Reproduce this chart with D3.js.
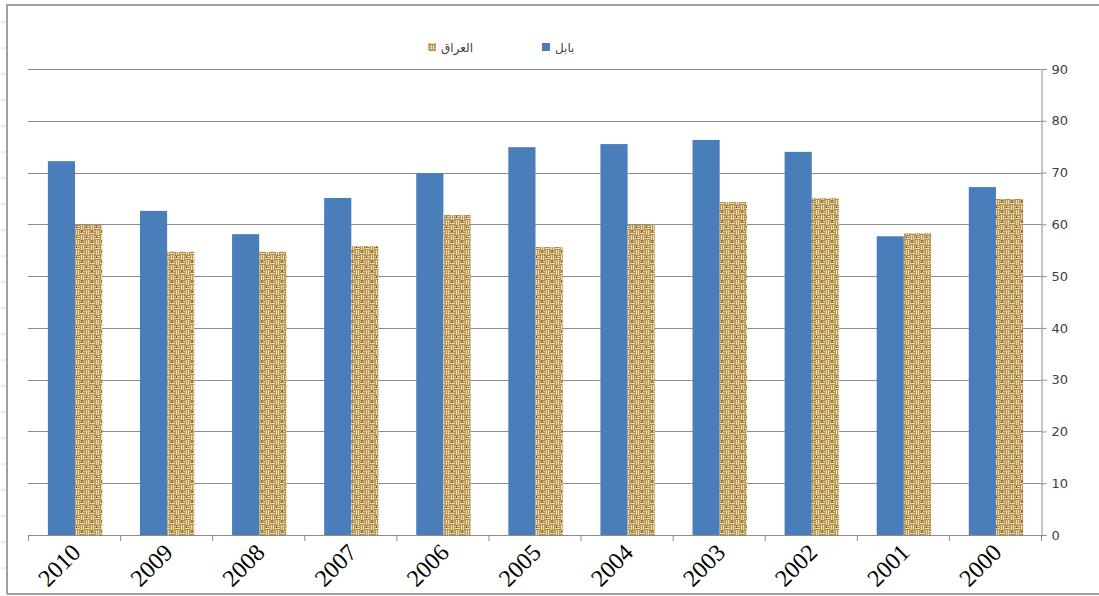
<!DOCTYPE html>
<html><head><meta charset="utf-8">
<script src="https://cdn.jsdelivr.net/npm/d3@7"></script>
<style>body{margin:0;background:#fff}svg{display:block}</style>
</head><body><svg id="c" width="1099" height="596"></svg>
<script>
const categories = ["2010","2009","2008","2007","2006","2005","2004","2003","2002","2001","2000"];
const babel = [72.2,62.6,58.1,65.1,69.9,74.9,75.5,76.3,74.0,57.7,67.2];
const iraq  = [59.9,54.7,54.7,55.8,61.8,55.6,59.9,64.3,65.1,58.3,64.9];
const seriesNames = ["بابل","العراق"];
const yTicks = [0,10,20,30,40,50,60,70,80,90];

(function(){
const svg = d3.select("#c");
const W = 1099, H = 596;
const pL = 28, pR = 1041, pT = 69, pB = 535;

// woven texture
const defs = svg.append("defs");
const pat = defs.append("pattern").attr("id","weave").attr("patternUnits","userSpaceOnUse")
  .attr("width",10).attr("height",10);
pat.append("rect").attr("width",10).attr("height",10).attr("fill","#eedda6");
pat.append("path").attr("d","M0,0.5H5M0,2.5H5M0,4.5H5M5,5.5H10M5,7.5H10M5,9.5H10").attr("stroke","#ad8a52").attr("stroke-width",1);
pat.append("path").attr("d","M5.5,0V5M7.5,0V5M9.5,0V5M0.5,5V10M2.5,5V10M4.5,5V10").attr("stroke","#b8965c").attr("stroke-width",1);
pat.append("rect").attr("x",1).attr("y",1).attr("width",2).attr("height",1).attr("fill","#7a5a2e");
pat.append("rect").attr("x",6).attr("y",6).attr("width",1).attr("height",2).attr("fill","#7a5a2e");

// frame
svg.append("path").attr("d",`M7,${H-2}V5H${W}`).attr("fill","none").attr("stroke","#a0a0a0").attr("stroke-width",2);
svg.append("line").attr("x1",7).attr("x2",W).attr("y1",H-2).attr("y2",H-2).attr("stroke","#a0a0a0").attr("stroke-width",2);
svg.append("g").selectAll("line").data(d3.range(22)).join("line")
  .attr("x1",1).attr("x2",5).attr("y1",d=>22+d*26).attr("y2",d=>22+d*26)
  .attr("stroke","#d0d0d0").attr("stroke-width",1);

const x = d3.scaleBand().domain(categories).range([pL,pR]).paddingInner(0.41).paddingOuter(0.205);
const x1 = d3.scaleBand().domain([0,1]).range([0,x.bandwidth()]);
const y = d3.scaleLinear().domain([0,90]).range([pB,pT]);

// gridlines
svg.append("g").selectAll("line").data(yTicks.slice(1)).join("line")
  .attr("x1",pL).attr("x2",pR).attr("y1",d=>Math.round(y(d))+0.5).attr("y2",d=>Math.round(y(d))+0.5)
  .attr("stroke","#8c8c8c").attr("stroke-width",1);

// bars
const g = svg.append("g");
categories.forEach((c,i)=>{
  g.append("rect").attr("x",x(c)+x1(0)+1).attr("width",x1.bandwidth()).attr("y",y(babel[i])).attr("height",y(0)-y(babel[i])).attr("fill","#4a7ebb");
  g.append("rect").attr("x",x(c)+x1(1)+1).attr("width",x1.bandwidth()).attr("y",y(iraq[i])).attr("height",y(0)-y(iraq[i])).attr("fill","url(#weave)");
});

// right axis
const ya = svg.append("g").attr("transform",`translate(${pR+0.5},0)`)
  .call(d3.axisRight(y).tickValues(yTicks).tickSize(5).tickPadding(5));
ya.select(".domain").attr("stroke","#8c8c8c");
ya.selectAll(".tick line").attr("stroke","#8c8c8c");
ya.selectAll(".tick text").style("font-family","\"DejaVu Sans\"").style("font-size","13px").attr("fill","#404040");

// x axis
svg.append("line").attr("x1",pL).attr("x2",pR).attr("y1",pB+0.5).attr("y2",pB+0.5).attr("stroke","#8c8c8c");
const step = x.step();
svg.append("g").selectAll("line").data(d3.range(categories.length+1)).join("line")
  .attr("x1",d=>pL+d*step+0.5).attr("x2",d=>pL+d*step+0.5).attr("y1",pB).attr("y2",pB+6).attr("stroke","#8c8c8c");
svg.append("g").selectAll("text").data(categories).join("text")
  .attr("transform",d=>`translate(${x(d)+x.bandwidth()/2+8},${pB+19}) rotate(-45)`)
  .attr("text-anchor","end")
  .style("font-family","\"Liberation Serif\"").style("font-size","24px").attr("fill","#000")
  .text(d=>d);

// legend
const leg = [{name:seriesNames[0],fill:"#4a7ebb",x:542},{name:seriesNames[1],fill:"url(#weave)",x:428}];
leg.forEach(l=>{
  svg.append("rect").attr("x",l.x).attr("y",43).attr("width",8).attr("height",8).attr("fill",l.fill);
  svg.append("text").attr("x",l.x+13).attr("y",52).style("font-family","\"DejaVu Sans\"").style("font-size","12px").attr("fill","#404040").text(l.name);
});
})();
</script></body></html>
